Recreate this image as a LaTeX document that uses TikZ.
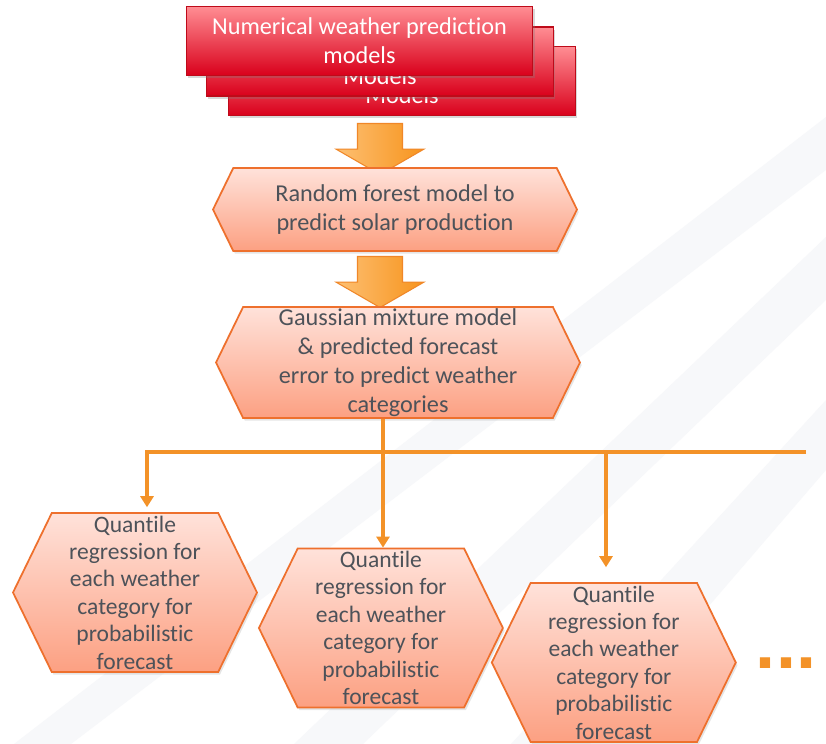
\documentclass[tikz,border=0pt]{standalone}
\usepackage{fontspec}
\setmainfont[Ligatures=NoCommon]{Carlito}
\newfontfamily\dotsfont{Liberation Sans}
\usetikzlibrary{positioning,shapes.symbols,shapes.arrows,shadows,arrows.meta}
\definecolor{nwpTop}{RGB}{255,141,147}
\definecolor{nwpBot}{RGB}{217,0,27}
\definecolor{nwpLine}{RGB}{190,10,25}
\definecolor{hexTop}{RGB}{255,226,218}
\definecolor{hexBot}{RGB}{252,160,130}
\definecolor{hexLine}{RGB}{238,112,45}
\definecolor{arrTop}{RGB}{253,192,115}
\definecolor{arrBot}{RGB}{247,148,29}
\definecolor{arrLine}{RGB}{240,135,40}
\definecolor{busOrange}{RGB}{243,146,40}
\definecolor{txtGrey}{RGB}{77,82,89}
\definecolor{stripeGrey}{RGB}{247,248,250}

\begin{document}
\begin{tikzpicture}[x=0.02cm,y=-0.02cm,
  font=\fontsize{13.8}{16.4}\selectfont,
  nwpbox/.style={rectangle, draw=nwpLine, line width=0.6pt, top color=nwpTop, bottom color=nwpBot,
    minimum width=6.94cm, minimum height=1.38cm, text=white, align=center,
    drop shadow={opacity=0.3,shadow xshift=1pt,shadow yshift=-1.5pt}},
  hexbox/.style={signal, signal to=east and west, signal pointer angle=128, draw=hexLine, line width=1pt,
    top color=hexTop, bottom color=hexBot, text=txtGrey, align=center, inner sep=0pt,
    drop shadow={opacity=0.2,shadow xshift=1pt,shadow yshift=-1.5pt}},
  qbox/.style={hexbox, minimum width=4.88cm, minimum height=3.18cm, font=\fontsize{13.4}{15.6}\selectfont},
  bigarrow/.style={single arrow, rotate=-90, draw=arrLine, line width=0.6pt, left color=arrTop, right color=arrBot,
    single arrow tip angle=120, single arrow head extend=0.43cm, minimum height=1.02cm, minimum width=1.74cm,
    inner xsep=0pt, inner ysep=0.44cm},
  bus/.style={draw=busOrange, line width=2.1pt},
  drop/.style={bus, -{Triangle[width=0.26cm,length=0.22cm]}}]
\useasboundingbox (0,0) rectangle (826,744);
% background
\fill[white] (0,0) rectangle (826,744);
\fill[stripeGrey] (14,744) -- (826,117) -- (826,170) -- (71,744) -- cycle;
\fill[stripeGrey] (294,744) -- (826,237) -- (826,300) -- (363,744) -- cycle;
\fill[stripeGrey] (511,744) -- (826,400) -- (826,470) -- (590,744) -- cycle;

% stacked NWP models
\node[nwpbox] (nwp3) at (402,81) {Numerical weather prediction\\Models};
\node[nwpbox] (nwp2) at (380,61.5) {Numerical weather prediction\\Models};
\node[nwpbox] (nwp1) at (359.5,41) {Numerical weather prediction\\models};

\node[bigarrow] (arr1) at (380,142.5) {};
\node[hexbox, minimum width=7.28cm, minimum height=1.66cm] (rf) at (395,209.5) {Random forest model to\\predict solar production};
\node[bigarrow] (arr2) at (380,275.5) {};
\node[hexbox, minimum width=7.28cm, minimum height=2.22cm] (gmm) at (398,362.5) {Gaussian mixture model\\\& predicted forecast\\error to predict weather\\categories};

% one quantile regression per category
\node[qbox] (qa) at (135,592.5) {Quantile\\regression for\\each weather\\category for\\probabilistic\\forecast};
\node[qbox, right=0cm of qa, yshift=-0.71cm] (qb) {Quantile\\regression for\\each weather\\category for\\probabilistic\\forecast};
\node[qbox, right=-0.26cm of qb, yshift=-0.69cm] (qc) {Quantile\\regression for\\each weather\\category for\\probabilistic\\forecast};
\node[text=busOrange, font=\dotsfont\fontsize{41}{41}\selectfont\bfseries] (more) at (786,663) {...};

\coordinate (split) at (383,452);
\coordinate (busL) at (147,452);
\coordinate (busC) at (606,452);
\coordinate (busR) at (806,452);

\draw[bus] (gmm.south -| split) -- (split);
\draw[drop, shorten >=2.8pt] (busR) -- (busL) -- (busL |- qa.north);
\draw[drop] (split) -- (split |- qb.north);
\draw[drop, shorten >=8.5pt] (busC) -- (busC |- qc.north);
\end{tikzpicture}
\end{document}
